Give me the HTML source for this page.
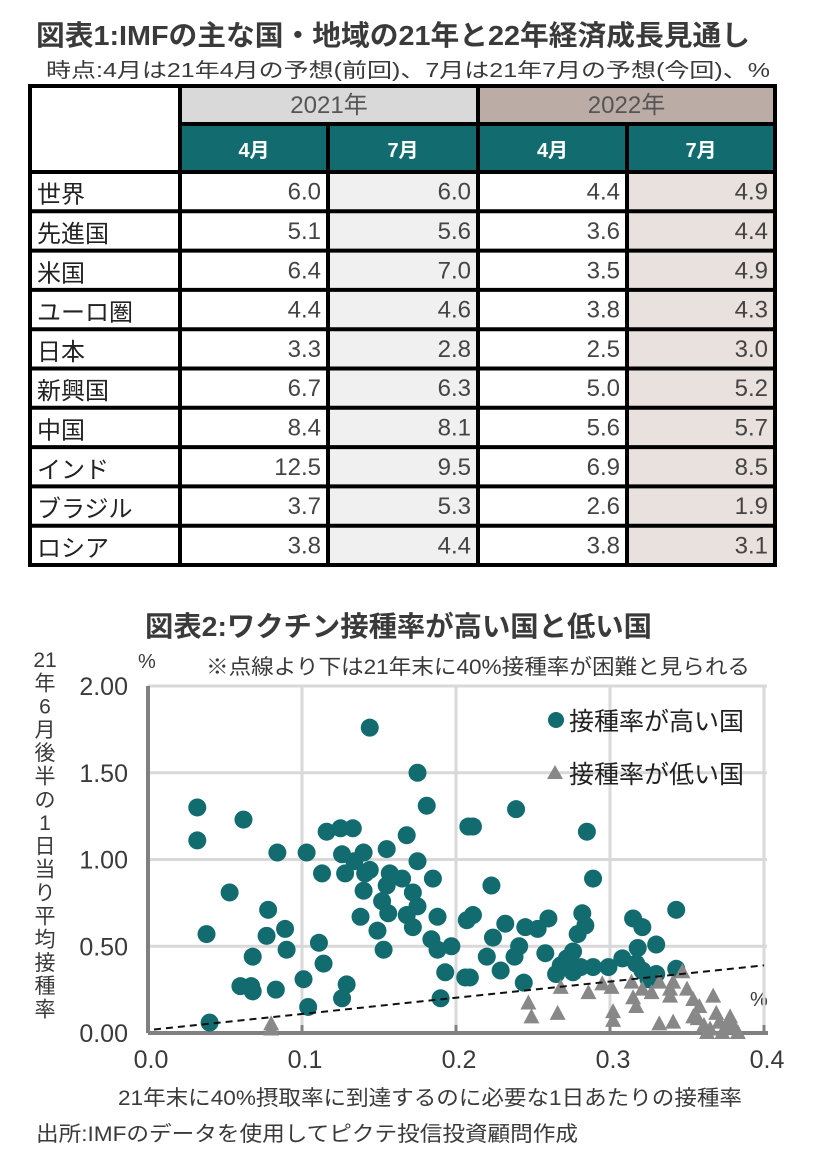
<!DOCTYPE html>
<html><head><meta charset="utf-8"><style>
body{margin:0;background:#fff;}
svg{display:block;font-family:"Liberation Sans","Noto Sans CJK JP",sans-serif;}
</style></head><body>
<svg id="root" width="814" height="1156" viewBox="0 0 814 1156" xmlns="http://www.w3.org/2000/svg">
<text x="36" y="45" font-size="28" fill="#3a3a3a" font-weight="bold" textLength="714" lengthAdjust="spacingAndGlyphs">図表1:IMFの主な国・地域の21年と22年経済成長見通し</text>
<text x="46" y="77" font-size="20" fill="#3a3a3a" textLength="724" lengthAdjust="spacingAndGlyphs">時点:4月は21年4月の予想(前回)、7月は21年7月の予想(今回)、%</text>
<g id="table"></g>
<text x="145" y="636" font-size="28" fill="#3a3a3a" font-weight="bold" textLength="507" lengthAdjust="spacingAndGlyphs">図表2:ワクチン接種率が高い国と低い国</text>
<text x="206" y="674" font-size="21" fill="#3a3a3a" textLength="544" lengthAdjust="spacingAndGlyphs">※点線より下は21年末に40%接種率が困難と見られる</text>
<text x="138" y="668" font-size="20" fill="#3a3a3a">%</text>
<text x="750" y="1006" font-size="20" fill="#3a3a3a">%</text>
<g id="ytitle"></g>
<g id="chart"></g>
<text x="118" y="1105" font-size="21" fill="#3a3a3a" textLength="624" lengthAdjust="spacingAndGlyphs">21年末に40%摂取率に到達するのに必要な1日あたりの接種率</text>
<text x="36" y="1141" font-size="21" fill="#3a3a3a" textLength="542" lengthAdjust="spacingAndGlyphs">出所:IMFのデータを使用してピクテ投信投資顧問作成</text>
</svg>
<script>
const NS="http://www.w3.org/2000/svg";
function mk(tag,attrs,parent,txt){const e=document.createElementNS(NS,tag);for(const k in attrs)e.setAttribute(k,attrs[k]);if(txt!==undefined)e.textContent=txt;parent.appendChild(e);return e;}
// ---- table data ----
const rowLabels=["世界","先進国","米国","ユーロ圏","日本","新興国","中国","インド","ブラジル","ロシア"];
const apr2021=["6.0","5.1","6.4","4.4","3.3","6.7","8.4","12.5","3.7","3.8"];
const jul2021=["6.0","5.6","7.0","4.6","2.8","6.3","8.1","9.5","5.3","4.4"];
const apr2022=["4.4","3.6","3.5","3.8","2.5","5.0","5.6","6.9","2.6","3.8"];
const jul2022=["4.9","4.4","4.9","4.3","3.0","5.2","5.7","8.5","1.9","3.1"];
const tg=document.getElementById('table');
const cx=[30,180,328,478,627,775];
const tTop=86,r1=124,r2=172,rh=39.3;
const tBottom=r2+rh*rowLabels.length;
const colFill=["#ffffff","#f0f0f0","#ffffff","#e8e1de"];
const cols=[apr2021,jul2021,apr2022,jul2022];
let e;
e=mk('rect',{x:cx[1],y:tTop,width:cx[3]-cx[1],height:r1-tTop,fill:"#d9d9d9"},tg);


e=mk('rect',{x:cx[3],y:tTop,width:cx[5]-cx[3],height:r1-tTop,fill:"#bcaca6"},tg);


e=mk('rect',{x:cx[1],y:r1,width:cx[5]-cx[1],height:r2-r1,fill:"#126b6e"},tg);


for(let c=0;c<4;c++){
 e=mk('rect',{x:cx[c+1],y:r2,width:cx[c+2]-cx[c+1],height:tBottom-r2,fill:colFill[c]},tg);
 
 
}
e=mk('text',{x:(cx[1]+cx[3])/2,y:113,"font-size":24,fill:"#555","text-anchor":"middle"},tg,"2021年");


e=mk('text',{x:(cx[3]+cx[5])/2,y:113,"font-size":24,fill:"#555","text-anchor":"middle"},tg,"2022年");


const months=["4月","7月","4月","7月"];
for(let c=0;c<4;c++){
 e=mk('text',{x:(cx[c+1]+cx[c+2])/2,y:157,"font-size":20,fill:"#fff","font-weight":"bold","text-anchor":"middle"},tg,months[c]);
 
 
}
for(let r=0;r<rowLabels.length;r++){
 const y=r2+rh*r+rh/2+8;
 e=mk('text',{x:37,y:y+3,"font-size":24,fill:"#222"},tg,rowLabels[r]);
 
 
 for(let c=0;c<4;c++){
  e=mk('text',{x:cx[c+2]-7,y:y,"font-size":24,fill:"#444","text-anchor":"end"},tg,cols[c][r]);
  
  
 }
}
const lines=[];
lines.push([cx[0],tTop,cx[5],tTop]);
lines.push([cx[1],r1,cx[5],r1]);
for(let r=0;r<=rowLabels.length;r++)lines.push([cx[0],r2+rh*r,cx[5],r2+rh*r]);
lines.push([cx[0],tTop,cx[0],tBottom]);lines.push([cx[1],tTop,cx[1],tBottom]);
lines.push([cx[2],r1,cx[2],tBottom]);lines.push([cx[3],tTop,cx[3],tBottom]);
lines.push([cx[4],r1,cx[4],tBottom]);lines.push([cx[5],tTop,cx[5],tBottom]);
for(const l of lines){
 e=mk('line',{x1:l[0],y1:l[1],x2:l[2],y2:l[3],stroke:"#000","stroke-width":4,"stroke-linecap":"square"},tg);
 
 
}
// ---- chart data ----
const highX=[0.144,0.175,0.181,0.032,0.062,0.032,0.208,0.116,0.125,0.133,0.168,0.084,0.103,0.126,0.140,0.155,0.175,0.134,0.144,0.141,0.113,0.128,0.157,0.165,0.185,0.053,0.140,0.155,0.172,0.152,0.175,0.156,0.168,0.188,0.138,0.207,0.172,0.078,0.149,0.038,0.077,0.089,0.090,0.111,0.153,0.184,0.188,0.197,0.068,0.114,0.193,0.206,0.060,0.067,0.068,0.083,0.101,0.129,0.126,0.104,0.190,0.040,
0.239,0.211,0.285,0.289,0.223,0.343,0.211,0.282,0.315,0.321,0.232,0.260,0.245,0.253,0.284,0.279,0.224,0.241,0.318,0.330,0.220,0.238,0.258,0.276,0.272,0.268,0.276,0.265,0.289,0.299,0.308,0.317,0.321,0.330,0.325,0.343,0.209,0.229,0.244,0.281];
const highY=[1.76,1.50,1.31,1.30,1.23,1.11,1.19,1.16,1.18,1.18,1.14,1.04,1.04,1.03,1.04,1.06,0.99,0.99,0.94,0.92,0.92,0.92,0.92,0.89,0.89,0.81,0.82,0.85,0.81,0.76,0.73,0.69,0.68,0.67,0.67,0.65,0.61,0.71,0.59,0.57,0.56,0.60,0.48,0.52,0.48,0.54,0.48,0.50,0.44,0.40,0.35,0.32,0.27,0.27,0.24,0.25,0.31,0.28,0.20,0.15,0.20,0.06,
1.29,1.19,1.16,0.89,0.85,0.71,0.68,0.69,0.66,0.61,0.63,0.66,0.61,0.60,0.62,0.57,0.55,0.50,0.49,0.51,0.44,0.44,0.46,0.47,0.43,0.39,0.35,0.34,0.38,0.38,0.43,0.40,0.36,0.34,0.31,0.37,0.32,0.36,0.29,0.38];
const lowX=[0.080,0.080,0.247,0.249,0.266,0.268,0.286,0.295,0.301,0.302,0.302,0.314,0.315,0.317,0.321,0.327,0.332,0.339,0.339,0.341,0.347,0.350,0.354,0.358,0.367,0.332,0.341,0.354,0.361,0.365,0.369,0.371,0.373,0.378,0.380,0.383,0.363,0.376,0.357];
const lowY=[0.05,0.02,0.17,0.09,0.11,0.26,0.23,0.28,0.26,0.12,0.07,0.29,0.20,0.15,0.25,0.23,0.29,0.25,0.21,0.29,0.35,0.25,0.19,0.15,0.21,0.05,0.06,0.09,0.04,0.02,0.11,0.06,0.00,0.09,0.04,0.00,0.00,0.03,0.08];
const xTicks=["0.0","0.1","0.2","0.3","0.4"];
const yTicks=["0.00","0.50","1.00","1.50","2.00"];
const lineStart=[0.0,0.02];
const lineEnd=[0.4,0.39];
const X0=148,X1=764,Y0=1033,Y1=686;
const xs=v=>X0+(X1-X0)*v/0.4;
const ys=v=>Y0-(Y0-Y1)*v/2;
const ch=document.getElementById('chart');
for(const t of yTicks){const v=parseFloat(t);
 if(v>0){e=mk('line',{x1:X0,y1:ys(v),x2:X1+3,y2:ys(v),stroke:"#d9d9d9","stroke-width":3},ch);
 
 }
 e=mk('text',{x:128,y:ys(v)+9,"font-size":25,fill:"#3a3a3a","text-anchor":"end"},ch,t);
 
 
}
for(const t of xTicks){const v=parseFloat(t);
 if(v>0){e=mk('line',{x1:xs(v),y1:Y1,x2:xs(v),y2:Y0,stroke:"#d9d9d9","stroke-width":3},ch);
 
 
 e=mk('line',{x1:xs(v),y1:Y0,x2:xs(v),y2:Y0-8,stroke:"#808080","stroke-width":3},ch);
 
 }
 e=mk('text',{x:xs(v)+3,y:1068,"font-size":25,fill:"#3a3a3a","text-anchor":"middle"},ch,t);
 
 
}
e=mk('line',{x1:X0,y1:Y1,x2:X0,y2:Y0,stroke:"#808080","stroke-width":4},ch);


e=mk('line',{x1:X0,y1:Y0,x2:X1+4,y2:Y0,stroke:"#808080","stroke-width":4},ch);


for(let i=0;i<highX.length;i++){
 e=mk('circle',{cx:xs(highX[i]),cy:ys(highY[i]),r:9,fill:"#126b6e"},ch);
 
 
}
for(let i=0;i<lowX.length;i++){const x=xs(lowX[i]),y=ys(lowY[i]);
 e=mk('polygon',{points:`${x},${y-9} ${x-8},${y+6} ${x+8},${y+6}`,fill:"#888"},ch);
 
 
}
e=mk('line',{x1:xs(lineStart[0])+6,y1:ys(lineStart[1]),x2:xs(lineEnd[0]),y2:ys(lineEnd[1]),stroke:"#111","stroke-width":2,"stroke-dasharray":"7,5"},ch);


e=mk('circle',{cx:556,cy:720,r:8,fill:"#126b6e"},ch);


e=mk('text',{x:569,y:730,"font-size":25,fill:"#222"},ch,"接種率が高い国");


e=mk('polygon',{points:"555,765 547,779 563,779",fill:"#888"},ch);


e=mk('text',{x:569,y:783,"font-size":25,fill:"#222"},ch,"接種率が低い国");


const ytg=document.getElementById('ytitle');
const chars=["21","年","6","月","後","半","の","1","日","当","り","平","均","接","種","率"];
for(let i=0;i<chars.length;i++){
 e=mk('text',{x:45,y:667+i*23.3,"font-size":21,fill:"#3a3a3a","text-anchor":"middle"},ytg,chars[i]);
 
 
}
</script>
</body></html>
